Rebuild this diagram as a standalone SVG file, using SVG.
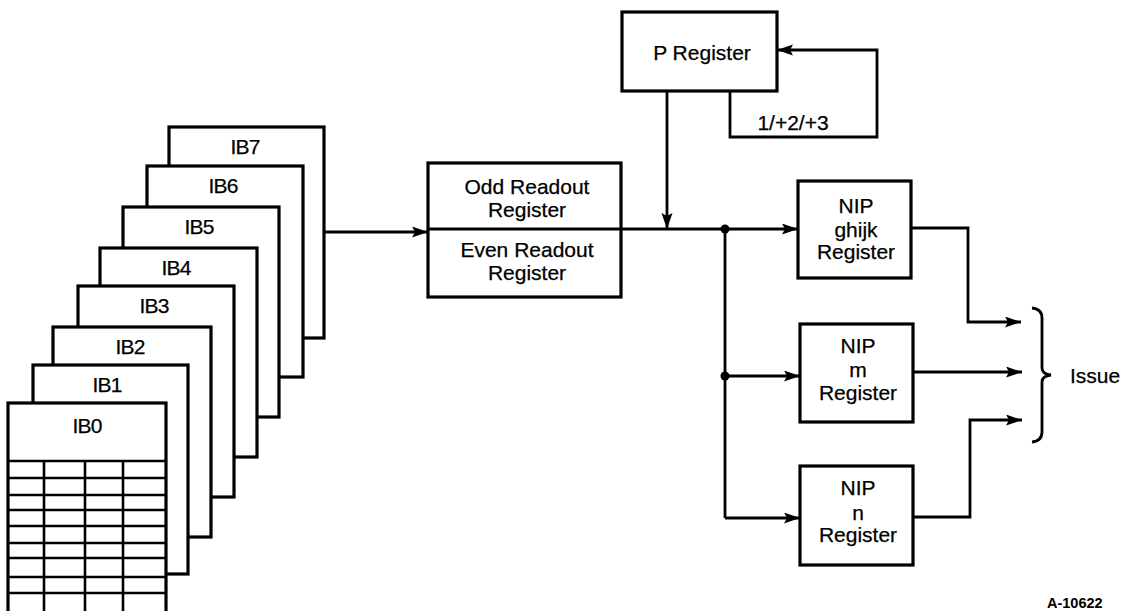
<svg xmlns="http://www.w3.org/2000/svg" width="1121" height="611" viewBox="0 0 1121 611">
<style>
  .box{fill:#fff;stroke:#000;stroke-width:3.2}
  .ln{fill:none;stroke:#000;stroke-width:2.8}
  .grid{fill:none;stroke:#000;stroke-width:2.6}
  text{font-family:"Liberation Sans",Arial,Helvetica,sans-serif;font-size:21px;fill:#000;text-anchor:middle;stroke:#000;stroke-width:0.25}
  .ib{letter-spacing:-0.8px}
  .code{font-size:14.5px;font-weight:bold;text-anchor:start;stroke:none}
</style>
<defs>
  <marker id="arr" markerUnits="userSpaceOnUse" markerWidth="18" markerHeight="12" refX="16" refY="5.5" orient="auto">
    <path d="M0,0 L16,5.5 L0,11 L3,5.5 z" fill="#000"/>
  </marker>
</defs>

<g id="ib7"><rect class="box" x="169" y="127" width="155" height="211"/><text class="ib" x="245" y="154">IB7</text></g>
<g id="ib6"><rect class="box" x="147" y="166" width="156" height="211"/><text class="ib" x="223" y="193">IB6</text></g>
<g id="ib5"><rect class="box" x="123" y="207" width="156" height="210"/><text class="ib" x="199" y="234">IB5</text></g>
<g id="ib4"><rect class="box" x="100" y="248" width="157" height="209"/><text class="ib" x="176" y="275">IB4</text></g>
<g id="ib3"><rect class="box" x="78" y="286" width="156" height="211"/><text class="ib" x="154" y="313">IB3</text></g>
<g id="ib2"><rect class="box" x="53" y="327" width="158" height="210"/><text class="ib" x="130" y="354">IB2</text></g>
<g id="ib1"><rect class="box" x="33" y="365" width="155" height="209"/><text class="ib" x="107" y="392">IB1</text></g>
<g id="ib0">
  <rect class="box" x="8" y="403" width="158" height="230"/>
  <text class="ib" x="87" y="433">IB0</text>
  <path class="grid" d="M8,461 H166 M8,478 H166 M8,495 H166 M8,510 H166 M8,526 H166 M8,543 H166 M8,558 H166 M8,577 H166 M8,593 H166 M44,461 V611 M85,461 V611 M123,461 V611"/>
</g>

<g id="readout">
  <rect class="box" x="428" y="163" width="193" height="134"/>
  <text x="527" y="194">Odd Readout</text>
  <text x="527" y="217">Register</text>
  <text x="527" y="257">Even Readout</text>
  <text x="527" y="280">Register</text>
</g>

<g id="preg">
  <rect class="box" x="622" y="12" width="155" height="79"/>
  <text x="702" y="60">P Register</text>
</g>

<g id="nip-ghijk">
  <rect class="box" x="798" y="181" width="113" height="97"/>
  <text x="856" y="213">NIP</text>
  <text x="856" y="237">ghijk</text>
  <text x="856" y="259">Register</text>
</g>
<g id="nip-m">
  <rect class="box" x="800" y="324" width="113" height="98"/>
  <text x="858" y="353">NIP</text>
  <text x="858" y="377">m</text>
  <text x="858" y="400">Register</text>
</g>
<g id="nip-n">
  <rect class="box" x="800" y="466" width="113" height="99"/>
  <text x="858" y="495">NIP</text>
  <text x="858" y="520">n</text>
  <text x="858" y="542">Register</text>
</g>

<g id="connectors">
  <path class="ln" d="M324,232 H428" marker-end="url(#arr)"/>
  <path class="ln" d="M428,229 H621"/>
  <path class="ln" d="M621,229 H798" marker-end="url(#arr)"/>
  <path class="ln" d="M667,91 V229" marker-end="url(#arr)"/>
  <path class="ln" d="M730,91 V137 H877 V50 H777" marker-end="url(#arr)"/>
  <text x="793" y="130">1/+2/+3</text>
  <circle cx="725" cy="229" r="4.5" fill="#000"/>
  <circle cx="725" cy="376" r="4.5" fill="#000"/>
  <path class="ln" d="M725,229 V518"/>
  <path class="ln" d="M725,376 H800" marker-end="url(#arr)"/>
  <path class="ln" d="M725,518 H800" marker-end="url(#arr)"/>
  <path class="ln" d="M911,228 H968 V322 H1021" marker-end="url(#arr)"/>
  <path class="ln" d="M913,372 H1022" marker-end="url(#arr)"/>
  <path class="ln" d="M913,517 H970 V420 H1022" marker-end="url(#arr)"/>
</g>

<g id="issue">
  <path d="M1032,308 Q1042,309 1042,318 V368 Q1042,374 1051,375 Q1042,376 1042,382 V432 Q1042,441 1032,442" fill="none" stroke="#000" stroke-width="2.8"/>
  <text x="1070" y="383" style="text-anchor:start">Issue</text>
</g>

<text class="code" x="1047" y="608">A-10622</text>
</svg>
